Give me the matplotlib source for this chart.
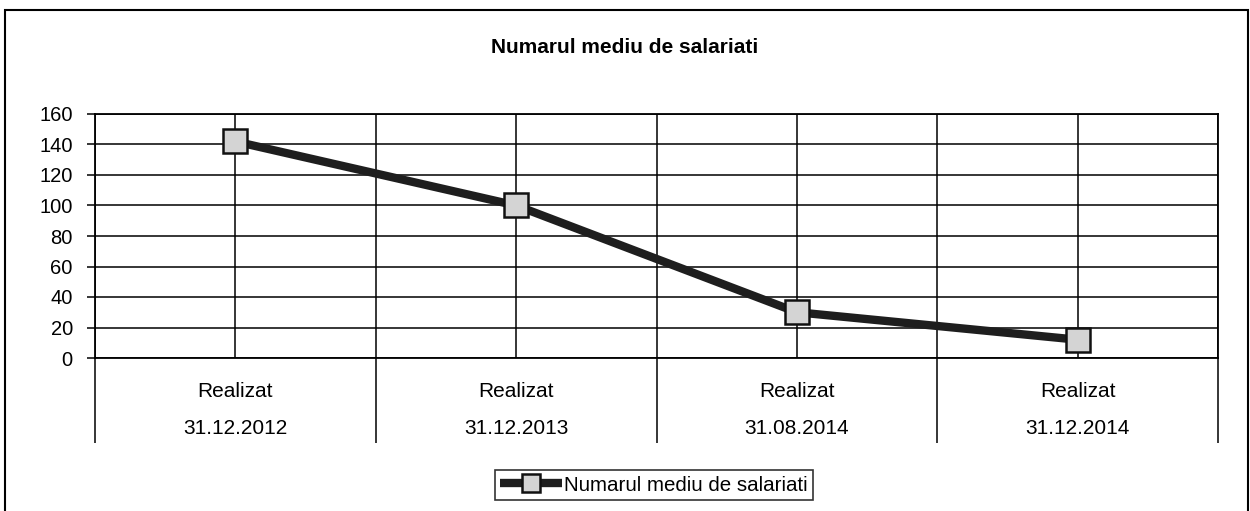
import matplotlib
matplotlib.use("Agg")
import matplotlib.pyplot as plt
from matplotlib.patches import Rectangle
from matplotlib.ticker import FixedLocator, NullFormatter, FixedFormatter

plt.rcParams['font.family'] = ['Liberation Sans', 'DejaVu Sans']

title = "Numarul mediu de salariati"
series_name = "Numarul mediu de salariati"
cat_top = ["Realizat", "Realizat", "Realizat", "Realizat"]
cat_dates = ["31.12.2012", "31.12.2013", "31.08.2014", "31.12.2014"]
values = [142, 100, 30, 12]
y_ticks = [0, 20, 40, 60, 80, 100, 120, 140, 160]

W, H = 1250, 511
fig = plt.figure(figsize=(W / 100, H / 100), dpi=100)

# outer chart frame
fig.patches.append(Rectangle((5 / W, -0.05), (1248 - 5) / W, 1.05 - 10 / H,
                             transform=fig.transFigure, fill=False,
                             edgecolor='black', linewidth=1.5))

ax = fig.add_axes([95 / W, 1 - 358 / H, (1218 - 95) / W, (358 - 114) / H])

n = len(values)
xs = [i + 0.5 for i in range(n)]

ax.set_xlim(0, n)
ax.set_ylim(0, 160)

# gridlines
for y in y_ticks:
    ax.axhline(y, color='black', lw=1.1, zorder=1)
for i in range(n + 1):
    ax.axvline(i, color='black', lw=1.1, zorder=1)
for x in xs:
    ax.axvline(x, color='black', lw=1.1, zorder=1)

ax.plot(xs, values, color='#1e1e1e', lw=6, marker='s', markersize=17.5,
        markerfacecolor='#d4d4d4', markeredgecolor='#111111',
        markeredgewidth=1.8, zorder=3, label=series_name, solid_capstyle='butt')

for s in ax.spines.values():
    s.set_linewidth(1.3)
    s.set_color('black')

ax.set_yticks(y_ticks)
ax.set_yticklabels([str(v) for v in y_ticks])
ax.tick_params(axis='y', direction='out', length=6, width=1.1, pad=10,
               labelsize=14.5)

ax.xaxis.set_major_locator(FixedLocator(list(range(n + 1))))
ax.xaxis.set_major_formatter(NullFormatter())
ax.xaxis.set_minor_locator(FixedLocator(xs))
ax.xaxis.set_minor_formatter(FixedFormatter(
    [f"{a}\n{b}" for a, b in zip(cat_top, cat_dates)]))
ax.tick_params(axis='x', which='major', direction='out', length=61, width=1.1)
ax.tick_params(axis='x', which='minor', length=0, pad=17, labelsize=15)
for lab in ax.xaxis.get_minorticklabels():
    lab.set_linespacing(2.25)

fig.text(0.5, 1 - 47 / H, title, ha='center', va='center',
         fontsize=15, fontweight='bold')

leg = fig.legend(loc='center', bbox_to_anchor=(654 / W, 1 - 485 / H),
                 fontsize=14.8, frameon=True, fancybox=False,
                 edgecolor='black', handlelength=3.0, handletextpad=0.1,
                 borderpad=0.25, markerscale=0.7)
leg.get_frame().set_linewidth(1.2)

fig.savefig("out.png", dpi=100, facecolor='white')
